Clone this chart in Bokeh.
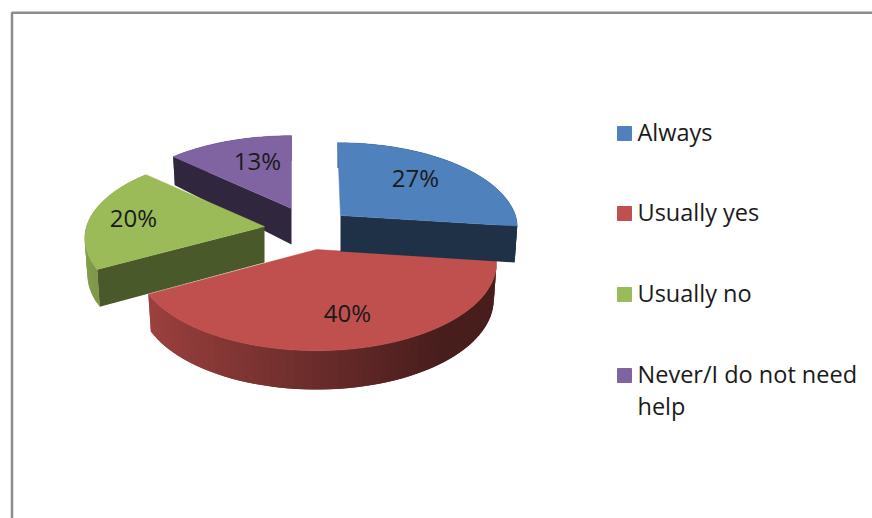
import math
from bokeh.plotting import figure
from bokeh.models import ColumnDataSource, Range1d
from bokeh.core.properties import value
from bokeh.embed import file_html
from bokeh.resources import INLINE

# ---- data ----
categories = ["Always", "Usually yes", "Usually no", "Never/I do not need\nhelp"]
shares = [27, 40, 20, 13]
colors = ["#4f81bd", "#c0504d", "#9bbb59", "#8064a2"]

# ---- projection of each exploded slice (page pixels) ----
apex_x = [340, 316, 264, 291]
apex_y = [215, 249, 226, 208]
radius = [175, 178, 178, 178]
squash = [83, 86, 83, 83]
persp = [0.14, 0.15, 0.14, 0.14]
lean = [3, 0, 0, 0]
wall_factor = [0.38, 0.38, 0.48, 0.38]
label_x = [415, 347, 133, 257]
label_y = [177, 312, 217, 160]
depth = 36
draw_order = [3, 1, 2, 0]
legend_y = [133, 213, 294, 375]
legend_text_y = [131, 211, 292, 373]
FONT = "Open Sans"
W, H = 872, 518


def shade(c, f):
    return "#%02x%02x%02x" % tuple(
        min(255, int(int(c[i:i + 2], 16) * f)) for i in (1, 3, 5))


def mix(c, f0, f1, u):
    return shade(c, f0 + (f1 - f0) * u)


def top_pt(i, t):
    Y = -math.cos(t)
    s = 1 / (1 - persp[i] * Y)
    x = apex_x[i] + radius[i] * math.sin(t) * s - lean[i] * max(0, -Y)
    return x, apex_y[i] + squash[i] * Y * s


def low_pt(x, y, i, t):
    Y = -math.cos(t)
    d = depth * (1 + (0.08 if Y > 0 else 0.3) * Y)
    return apex_x[i] + (x - apex_x[i]) * 0.985, y + d


p = figure(width=W, height=H, x_range=Range1d(0, W), y_range=Range1d(H, 0),
           toolbar_location=None, output_backend="svg", min_border=0,
           background_fill_color="white", border_fill_color="white")
p.axis.visible = False
p.grid.visible = False
p.outline_line_color = None

# frame
p.line([W, 11.5, 11.5], [12.2, 12.2, H], line_color="#8c8c8c", line_width=2.5)

# slices
total = sum(shares)
starts = [2 * math.pi * sum(shares[:i]) / total for i in range(len(shares))]
for i in draw_order:
    t0 = starts[i]
    t1 = t0 + 2 * math.pi * shares[i] / total
    n = max(8, int(shares[i] * 1.5))
    ts = [t0 + (t1 - t0) * k / n for k in range(n + 1)]
    xs, ys, fills = [], [], []
    # rim strips, each reaching over the next one so that no seams show
    for k in range(n):
        a = ts[k]
        b = ts[min(n, k + 2)]
        ax, ay = top_pt(i, a)
        bx, by = top_pt(i, b)
        cx, cy = low_pt(bx, by, i, b)
        dx, dy = low_pt(ax, ay, i, a)
        xs.append([ax, bx, cx, dx])
        ys.append([ay, by, cy, dy])
        u = min(1, max(0, (math.sin((ts[k] + ts[k + 1]) / 2) + 1) / 1.6))
        fills.append(mix(colors[i], 0.85, 0.38, u))
    # the cut wall that faces the viewer
    wt = t1 if i == 0 else t0
    if i != 1:
        ex, ey = top_pt(i, wt)
        fx, fy = low_pt(ex, ey, i, wt)
        gx, gy = low_pt(apex_x[i], apex_y[i], i, math.pi / 2)
        xs.append([apex_x[i], ex, fx, gx])
        ys.append([apex_y[i], ey, fy, gy])
        fills.append(shade(colors[i], wall_factor[i]))
    p.patches("xs", "ys", source=ColumnDataSource(dict(xs=xs, ys=ys, c=fills)),
              fill_color="c", line_color=None)
    # top surface
    pts = [top_pt(i, t) for t in ts]
    p.patch([apex_x[i]] + [q[0] for q in pts], [apex_y[i]] + [q[1] for q in pts],
            fill_color=colors[i], line_color=colors[i], line_width=0.5)

# data labels
p.text(label_x, label_y, text=[f"{v}%" for v in shares], text_align="center",
       text_baseline="middle", text_font=value(FONT), text_font_size="24px",
       text_color="#1a1a1a")

# legend
p.rect([624] * 4, legend_y, width=14, height=14, fill_color=colors, line_color=colors)
p.text([637] * 3, legend_text_y[:3], text=categories[:3], text_baseline="middle",
       text_font=value(FONT), text_font_size="23.5px", text_color="#1a1a1a")
p.text([637], [legend_text_y[3]], text=[categories[3]], text_baseline="top",
       y_offset=-16, text_line_height=1.0,
       text_font=value(FONT), text_font_size="23.5px", text_color="#1a1a1a")

open("out.html", "w").write(file_html(p, INLINE))
